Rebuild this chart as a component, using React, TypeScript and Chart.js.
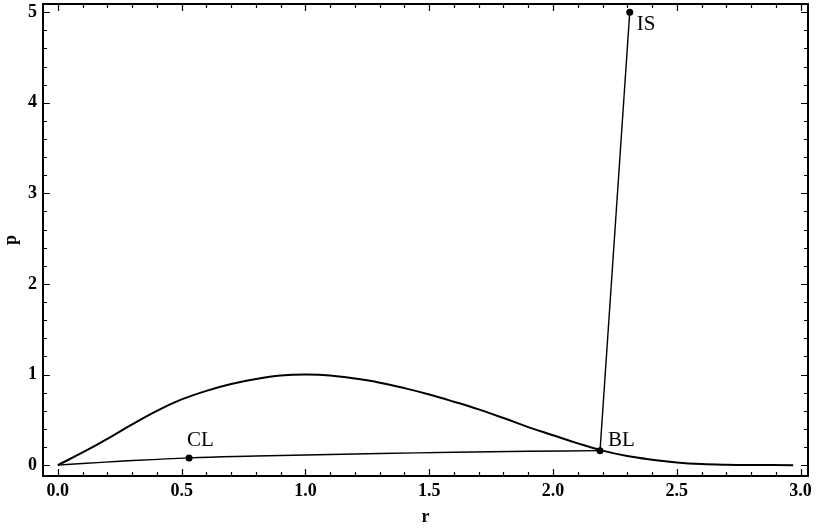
import React, { useEffect, useRef } from "react";
import { Chart, registerables } from "chart.js";

Chart.register(...registerables);

// Main curve p(r)
const curveR = [0, 0.1, 0.2, 0.3, 0.4, 0.5, 0.6, 0.7, 0.8, 0.9, 1.0, 1.1, 1.2, 1.3, 1.4, 1.5, 1.6, 1.7, 1.8, 1.9, 2.0, 2.1, 2.2, 2.3, 2.4, 2.5, 2.6, 2.7, 2.8, 2.97];
const curveP = [0, 0.14, 0.29, 0.45, 0.6, 0.725, 0.82, 0.895, 0.95, 0.988, 1.0, 0.99, 0.955, 0.91, 0.85, 0.78, 0.7, 0.615, 0.52, 0.42, 0.33, 0.24, 0.16, 0.1, 0.06, 0.03, 0.012, 0.004, 0.001, 0];

// Lower path from origin through CL to BL
const lowR = [0, 0.1, 0.25, 0.53, 0.8, 1.0, 1.3, 1.6, 1.9, 2.19];
const lowP = [0, 0.018, 0.042, 0.08, 0.1, 0.112, 0.128, 0.142, 0.153, 0.16];

// Marked points
const markNames = ["CL", "BL", "IS"];
const markR = [0.53, 2.19, 2.31];
const markP = [0.08, 0.16, 5.0];

// Ticks
const xTicks = [0, 0.5, 1.0, 1.5, 2.0, 2.5, 3.0];
const yTicks = [0, 1, 2, 3, 4, 5];
const xMinorStep = 0.1;
const yMinorStep = 0.2;

const FONT = "'Liberation Serif', 'Times New Roman', serif";

const framePlugin = {
  id: "frameTicks",
  afterDraw(chart: any) {
    const { ctx, chartArea } = chart;
    const xs = chart.scales.x;
    const ys = chart.scales.y;
    const { left, right, top, bottom } = chartArea;
    ctx.save();
    ctx.strokeStyle = "#000";
    ctx.lineWidth = 1.2;
    const major = 7;
    const minor = 4;
    ctx.beginPath();
    for (let i = 0; i <= Math.round(3.0 / xMinorStep); i++) {
      const v = i * xMinorStep;
      const len = i % 5 === 0 ? major : minor;
      const px = Math.round(xs.getPixelForValue(v)) + 0.5;
      if (px < left || px > right) continue;
      ctx.moveTo(px, bottom);
      ctx.lineTo(px, bottom - len);
      ctx.moveTo(px, top);
      ctx.lineTo(px, top + len);
    }
    for (let i = 0; i <= Math.round(5 / yMinorStep); i++) {
      const v = i * yMinorStep;
      const len = i % 5 === 0 ? major : minor;
      const py = Math.round(ys.getPixelForValue(v)) + 0.5;
      if (py < top || py > bottom) continue;
      ctx.moveTo(left, py);
      ctx.lineTo(left + len, py);
      ctx.moveTo(right, py);
      ctx.lineTo(right - len, py);
    }
    ctx.stroke();
    ctx.lineWidth = 2;
    ctx.strokeRect(left, top, right - left, bottom - top);

    ctx.fillStyle = "#000";
    ctx.font = `21px ${FONT}`;
    ctx.textBaseline = "alphabetic";
    ctx.textAlign = "left";
    const offsets: Record<string, [number, number]> = {
      CL: [-2, -12],
      BL: [8, -5],
      IS: [7, 18],
    };
    markNames.forEach((name, i) => {
      const px = xs.getPixelForValue(markR[i]);
      const py = ys.getPixelForValue(markP[i]);
      const [dx, dy] = offsets[name];
      ctx.fillText(name, px + dx, py + dy);
    });
    ctx.restore();
  },
};

export default function App() {
  const ref = useRef<HTMLCanvasElement>(null);
  useEffect(() => {
    if (!ref.current) return;
    const curve = curveR.map((r, i) => ({ x: r, y: curveP[i] }));
    const low = lowR.map((r, i) => ({ x: r, y: lowP[i] }));
    const bi = markNames.indexOf("BL");
    const ii = markNames.indexOf("IS");
    const rise = [
      { x: markR[bi], y: markP[bi] },
      { x: markR[ii], y: markP[ii] },
    ];
    const marks = markR.map((r, i) => ({ x: r, y: markP[i] }));
    const tickFont = { family: FONT, size: 18, weight: "bold" as const };
    const chart = new Chart(ref.current, {
      type: "scatter",
      data: {
        datasets: [
          {
            data: curve,
            showLine: true,
            borderColor: "#000",
            borderWidth: 2,
            pointRadius: 0,
            tension: 0.4,
          },
          {
            data: low,
            showLine: true,
            borderColor: "#000",
            borderWidth: 1.4,
            pointRadius: 0,
            tension: 0.4,
          },
          {
            data: rise,
            showLine: true,
            borderColor: "#000",
            borderWidth: 1.4,
            pointRadius: 0,
          },
          {
            data: marks,
            showLine: false,
            pointRadius: 3.5,
            pointBackgroundColor: "#000",
            pointBorderColor: "#000",
            pointBorderWidth: 0,
          },
        ],
      },
      options: {
        responsive: false,
        animation: false,
        events: [],
        layout: { padding: { top: 3, right: 10, left: 0, bottom: 0 } },
        plugins: {
          legend: { display: false },
          tooltip: { enabled: false },
        },
        scales: {
          x: {
            type: "linear",
            min: -0.06,
            max: 3.03,
            grid: { display: false, drawTicks: false },
            border: { display: false },
            afterBuildTicks: (s: any) => {
              s.ticks = xTicks.map((v) => ({ value: v }));
            },
            afterFit: (s: any) => {
              s.height = 55;
              s.paddingLeft = 0;
              s.paddingRight = 0;
            },
            ticks: {
              padding: 5,
              color: "#000",
              font: tickFont,
              maxRotation: 0,
              autoSkip: false,
              callback: (v: any) => Number(v).toFixed(1),
            },
            title: {
              display: true,
              text: "r",
              color: "#000",
              font: tickFont,
              padding: { top: 0, bottom: 3 },
            },
          },
          y: {
            type: "linear",
            min: -0.12,
            max: 5.09,
            grid: { display: false, drawTicks: false },
            border: { display: false },
            afterBuildTicks: (s: any) => {
              s.ticks = yTicks.map((v) => ({ value: v }));
            },
            afterFit: (s: any) => {
              s.width = 43;
              s.paddingTop = 0;
              s.paddingBottom = 0;
            },
            ticks: {
              padding: 6,
              color: "#000",
              font: tickFont,
              autoSkip: false,
              callback: (v: any) => String(v),
            },
            title: {
              display: true,
              text: "p",
              color: "#000",
              font: tickFont,
              padding: { top: 1, bottom: 0 },
            },
          },
        },
      },
      plugins: [framePlugin],
    });
    return () => chart.destroy();
  }, []);
  return (
    <div style={{ position: "absolute", left: 0, top: 0, width: 818, height: 531, background: "#fff" }}>
      <canvas ref={ref} width={818} height={531} style={{ width: 818, height: 531, display: "block" }} />
    </div>
  );
}
